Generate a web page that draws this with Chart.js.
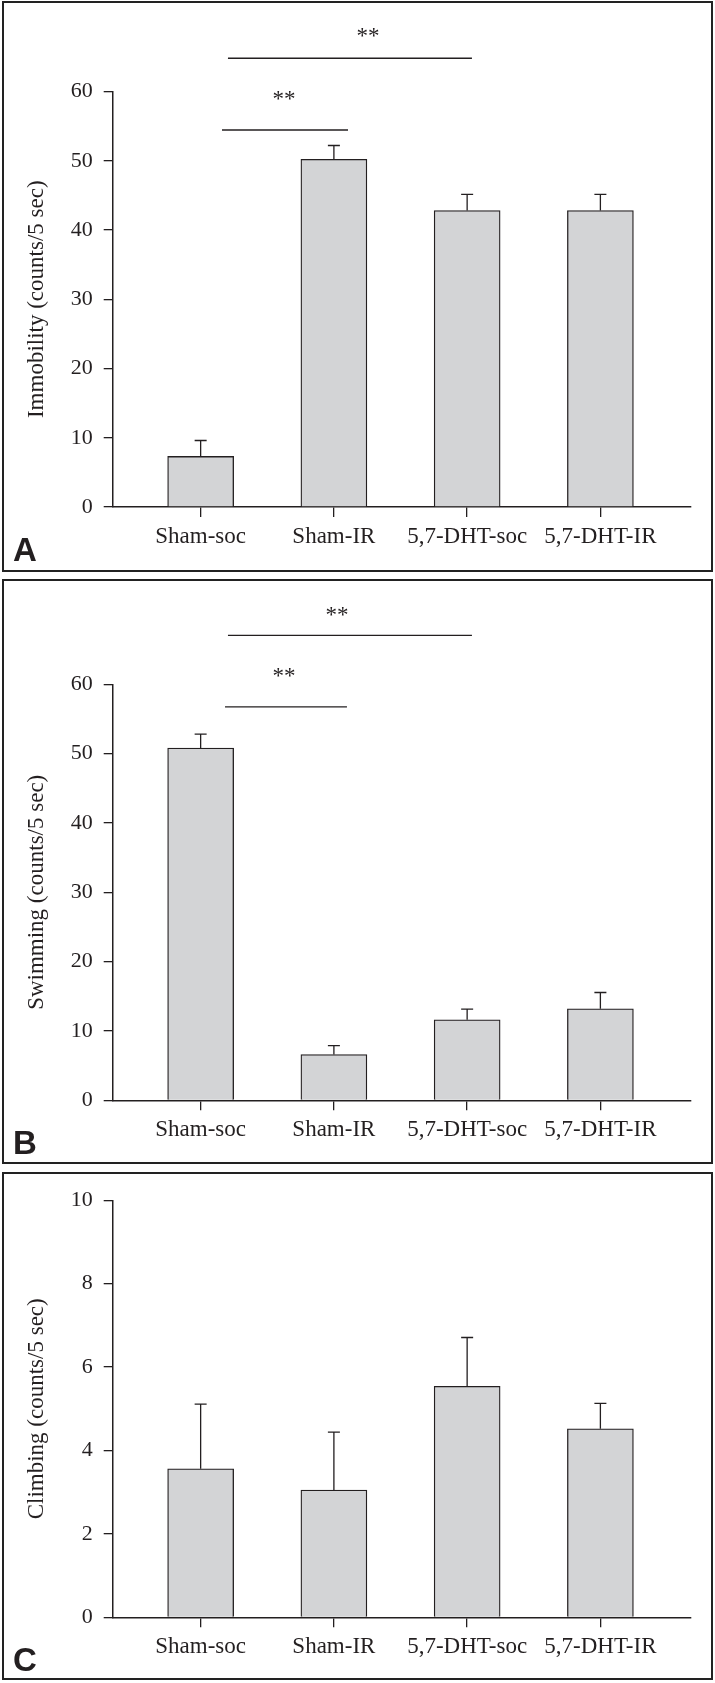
<!DOCTYPE html>
<html lang="en">
<head>
  <meta charset="UTF-8">
  <title>Immobility, swimming and climbing counts</title>
  <script src="https://cdn.jsdelivr.net/npm/chart.js"></script>
  <style>
    body { margin:0; background:#fff; width:715px; height:1683px; position:relative; overflow:hidden; }
    canvas { position:absolute; left:0; }
    .panel { position:absolute; left:2px; width:711px; border:2px solid #222; box-sizing:border-box; pointer-events:none; }
  </style>
</head>
<body>
  <canvas id="chartA" width="715" height="572" style="top:0px"></canvas>
  <canvas id="chartB" width="715" height="590" style="top:576px"></canvas>
  <canvas id="chartC" width="715" height="513" style="top:1168px"></canvas>
  <div class="panel" style="top:1px;height:571px"></div>
  <div class="panel" style="top:579px;height:585px"></div>
  <div class="panel" style="top:1172px;height:508px"></div>
  <script>
    // data (mean, SEM up only)
    const groups = ['Sham-soc', 'Sham-IR', '5,7-DHT-soc', '5,7-DHT-IR'];

    const immobility = [7.3, 50.2, 42.8, 42.8];
    const immobilitySem = [2.3, 2.0, 2.35, 2.35];
    const immobilityTicks = [0, 10, 20, 30, 40, 50, 60];

    const swimming = [50.8, 6.6, 11.6, 13.2];
    const swimmingSem = [2.0, 1.3, 1.55, 2.35];
    const swimmingTicks = [0, 10, 20, 30, 40, 50, 60];

    const climbing = [3.56, 3.05, 5.54, 4.52];
    const climbingSem = [1.55, 1.39, 1.17, 0.61];
    const climbingTicks = [0, 2, 4, 6, 8, 10];

    // significance brackets, in axis units (group index / counts)
    const immobilityBrackets = [
      {from: 0.205, to: 2.036, y: 64.8, starX: 1.256, starY: 68.45},
      {from: 0.16, to: 1.106, y: 54.44, starX: 0.626, starY: 59.35}
    ];
    const swimmingBrackets = [
      {from: 0.205, to: 2.036, y: 67.07, starX: 1.023, starY: 70.47},
      {from: 0.183, to: 1.098, y: 56.73, starX: 0.626, starY: 61.67}
    ];

    const INK = '#231f20';
    const SERIF = "'Liberation Serif', 'Times New Roman', serif";

    function extras(sem, brackets, letter) {
      return {
        id: 'panelExtras',
        afterDraw(chart) {
          const {ctx, scales: {x, y}} = chart;
          const vals = chart.data.datasets[0].data;
          ctx.save();
          ctx.strokeStyle = INK;
          ctx.lineWidth = 1.3;
          vals.forEach((p, i) => {
            const px = x.getPixelForValue(p.x);
            const base = y.getPixelForValue(p.y);
            const top = y.getPixelForValue(p.y + sem[i]);
            ctx.beginPath();
            ctx.moveTo(px, base); ctx.lineTo(px, top);
            ctx.moveTo(px - 6, top); ctx.lineTo(px + 6, top);
            ctx.stroke();
          });
          ctx.fillStyle = INK;
          ctx.font = '23px ' + SERIF;
          ctx.textAlign = 'center';
          ctx.textBaseline = 'alphabetic';
          brackets.forEach(b => {
            const by = y.getPixelForValue(b.y);
            ctx.beginPath();
            ctx.moveTo(x.getPixelForValue(b.from), by);
            ctx.lineTo(x.getPixelForValue(b.to), by);
            ctx.stroke();
            ctx.fillText('**', x.getPixelForValue(b.starX), y.getPixelForValue(b.starY) + 10);
          });
          ctx.font = "bold 33px 'Liberation Sans', Arial, sans-serif";
          ctx.textAlign = 'left';
          ctx.fillText(letter, 13, y.getPixelForValue(0) + 54);
          ctx.restore();
        }
      };
    }

    function makeChart(id, values, sem, ticks, title, brackets, letter, top, bottom) {
      const canvas = document.getElementById(id);
      const h = canvas.height;
      return new Chart(canvas.getContext('2d'), {
        type: 'bar',
        data: {
          datasets: [{
            data: values.map((v, i) => ({x: i, y: v})),
            backgroundColor: '#d3d4d6',
            borderColor: INK,
            borderWidth: 1.3,
            barThickness: 66
          }]
        },
        options: {
          responsive: false,
          animation: false,
          layout: {padding: {top: top, right: 24, bottom: 0, left: 0}},
          plugins: {legend: {display: false}, tooltip: {enabled: false}},
          scales: {
            x: {
              type: 'linear', min: -0.66, max: 3.68, offset: false,
              afterBuildTicks: s => { s.ticks = groups.map((g, i) => ({value: i})); },
              afterFit: s => { s.height = h - bottom; },
              ticks: {callback: v => groups[v], font: {family: SERIF, size: 23}, color: INK, padding: 6, maxRotation: 0, autoSkip: false},
              grid: {offset: false, drawOnChartArea: false, tickLength: 10, color: INK, lineWidth: 1.3},
              border: {display: true, color: INK, width: 1.5}
            },
            y: {
              min: 0, max: ticks[ticks.length - 1],
              afterBuildTicks: s => { s.ticks = ticks.map(v => ({value: v})); },
              afterFit: s => { s.width = 112.7; },
              ticks: {font: {family: SERIF, size: 22}, color: INK, padding: 11},
              grid: {drawOnChartArea: false, tickLength: 9, color: INK, lineWidth: 1.3},
              border: {display: true, color: INK, width: 1.5},
              title: {display: true, text: title, font: {family: SERIF, size: 23}, color: INK, padding: {top: 23, bottom: 0}}
            }
          }
        },
        plugins: [extras(sem, brackets, letter)]
      });
    }

    makeChart('chartA', immobility, immobilitySem, immobilityTicks, 'Immobility (counts/5 sec)', immobilityBrackets, 'A', 91.5, 507);
    makeChart('chartB', swimming, swimmingSem, swimmingTicks, 'Swimming (counts/5 sec)', swimmingBrackets, 'B', 108.3, 524.3);
    makeChart('chartC', climbing, climbingSem, climbingTicks, 'Climbing (counts/5 sec)', [], 'C', 32.3, 449.3);
  </script>
</body>
</html>
